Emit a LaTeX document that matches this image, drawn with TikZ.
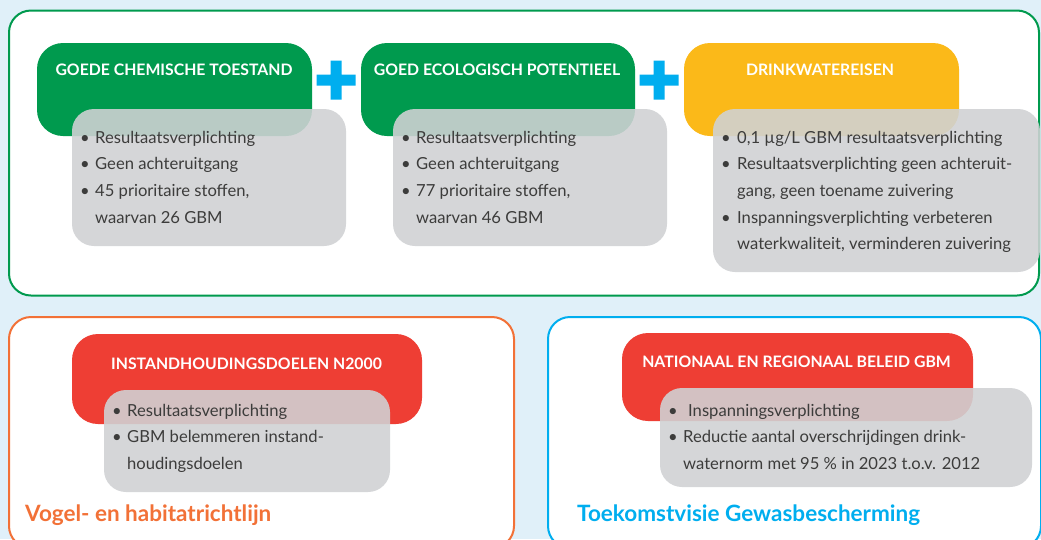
\documentclass[tikz,border=0pt]{standalone}
\usepackage{fontspec}
\setmainfont{Lato}
\usetikzlibrary{calc}

\definecolor{bgblue}{RGB}{224,240,249}
\definecolor{kgreen}{RGB}{0,154,78}
\definecolor{kyellow}{RGB}{251,185,25}
\definecolor{kred}{RGB}{238,62,52}
\definecolor{korange}{RGB}{242,113,55}
\definecolor{kblue}{RGB}{0,174,239}
\definecolor{kgray}{RGB}{208,210,212}
\definecolor{ktext}{RGB}{60,60,59}

\tikzset{
  frame/.style={fill=white, line width=2pt, rounded corners=22pt},
  headbox/.style={rounded corners=26pt},
  graybox/.style={fill=kgray, fill opacity=0.89, rounded corners=22pt},
  title/.style={text=white, anchor=base, inner sep=0pt,
    font=\bfseries\fontsize{15.8}{18}\selectfont},
  bullets/.style={text=ktext, anchor=base west, inner sep=0pt,
    font=\fontsize{16.6}{26.6}\selectfont},
  caption/.style={anchor=base west, inner sep=0pt,
    font=\bfseries\fontsize{22.5}{26}\selectfont},
}

\begin{document}
\begin{tikzpicture}[x=1pt,y=-1pt]
\useasboundingbox (0,0) rectangle (1041,539);
\clip (0,0) rectangle (1041,539);
\fill [bgblue] (0,0) rectangle (1041,539);

% kaderrichtlijn water
\draw [frame,draw=kgreen] (9,10.5) rectangle (1039,295.5);
\fill [headbox,kgreen] (37,43) rectangle (312,136);
\fill [headbox,kgreen] (361,43) rectangle (635,136);
\fill [headbox,kyellow] (684,43) rectangle (959,136);
\fill [graybox] (72,109) rectangle (346,246);
\fill [graybox] (393,109) rectangle (667,246);
\fill [graybox] (713,109) rectangle (1040,272);
\fill [kblue] (316.5,74.5) rectangle (355.5,85.5) (330.5,60.5) rectangle (341.5,99.5);
\fill [kblue] (639.5,74.5) rectangle (678.5,85.5) (653.5,60.5) rectangle (664.5,99.5);

\node [title] (chem) at (174,75.7) {GOEDE CHEMISCHE TOESTAND};
\node [title] (eco) at (497,75.7) {GOED ECOLOGISCH POTENTIEEL};
\node [title] (drink) at (820,75.7) {DRINKWATEREISEN};

\node [bullets] (chemlist) at (80,143.3) {
  \begin{tabular}[t]{@{}p{15pt}@{}l@{}}
    • & Resultaatsverplichting \\
    • & Geen achteruitgang \\
    • & 45 prioritaire stoffen, \\
      & waarvan 26 GBM \\
  \end{tabular}
};
\node [bullets] (ecolist) at (401,143.3) {
  \begin{tabular}[t]{@{}p{15pt}@{}l@{}}
    • & Resultaatsverplichting \\
    • & Geen achteruitgang \\
    • & 77 prioritaire stoffen, \\
      & waarvan 46 GBM \\
  \end{tabular}
};
\node [bullets] (drinklist) at (721,143.3) {
  \begin{tabular}[t]{@{}p{16pt}@{}l@{}}
    • & 0,1 µg/L GBM resultaatsverplichting \\
    • & Resultaatsverplichting geen achteruit- \\
      & gang, geen toename zuivering \\
    • & Inspanningsverplichting verbeteren \\
      & waterkwaliteit, verminderen zuivering \\
  \end{tabular}
};

% vogel- en habitatrichtlijn
\draw [frame,draw=korange] (9,317) rectangle (514,548);
\fill [headbox,kred] (72,334) rectangle (422,424);
\fill [graybox] (104,390) rectangle (390,492);
\node [title] (n2000) at (246.5,369) {INSTANDHOUDINGSDOELEN N2000};
\node [bullets] (n2000list) at (112,416) {
  \begin{tabular}[t]{@{}p{15pt}@{}l@{}}
    • & Resultaatsverplichting \\
    • & GBM belemmeren instand- \\
      & houdingsdoelen \\
  \end{tabular}
};
\node [caption,text=korange] (vhr) at (25,521.7) {Vogel- en habitatrichtlijn};

% toekomstvisie gewasbescherming
\draw [frame,draw=kblue] (548,317) rectangle (1041,548);
\fill [headbox,kred] (622,333) rectangle (973,421);
\fill [graybox] (660,388) rectangle (1032,487);
\node [title] (beleid) at (796.5,367) {NATIONAAL EN REGIONAAL BELEID GBM};
\node [bullets] (beleidlist) at (668,416) {
  \begin{tabular}[t]{@{}p{15pt}@{}l@{}}
    • & \hspace{5pt}Inspanningsverplichting \\
    • & Reductie aantal overschrijdingen drink- \\
      & waternorm met 95 \% in 2023 t.o.v. 2012 \\
  \end{tabular}
};
\node [caption,text=kblue] (tvg) at (577,521.7) {Toekomstvisie Gewasbescherming};
\end{tikzpicture}
\end{document}
